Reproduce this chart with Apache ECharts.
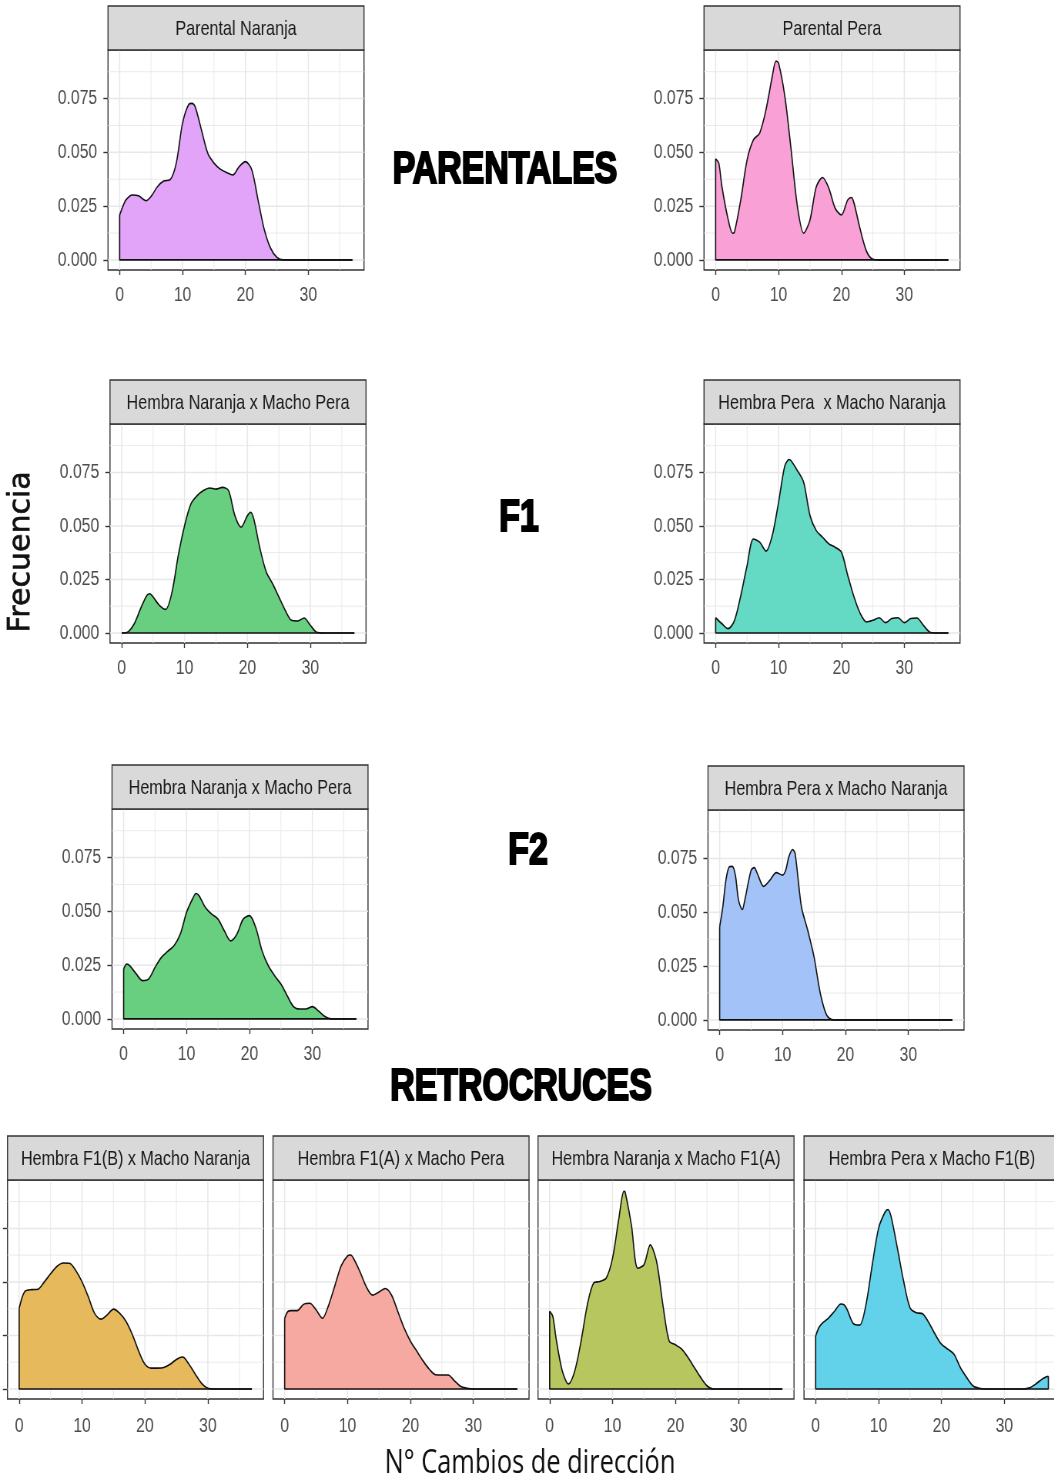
<!DOCTYPE html>
<html>
<head>
<meta charset="utf-8">
<script src="https://cdn.jsdelivr.net/npm/echarts@6/dist/echarts.min.js"></script>
<style>
  html, body { margin: 0; padding: 0; background: #fff; overflow: hidden; }
  #wrap { width: 1054px; height: 1479px; overflow: hidden; }
  /* the reference picture is squeezed horizontally; draw wide, then squeeze */
  #main { width: 1369px; height: 1479px; transform: scaleX(0.77); transform-origin: 0 0; }
</style>
</head>
<body>
<div id="wrap"><div id="main"></div></div>
<script>
// axis breaks (ggplot style: major + minor grid)
var xMajor = [0, 10, 20, 30];
var xMinor = [5, 15, 25, 35];
var yMajor = [0, 0.025, 0.05, 0.075];
var yMinor = [0.0125, 0.0375, 0.0625, 0.0875];

var titles = [
  'Parental Naranja', 'Parental Pera',
  'Hembra Naranja x Macho Pera', 'Hembra Pera  x Macho Naranja',
  'Hembra Naranja x Macho Pera', 'Hembra Pera x Macho Naranja',
  'Hembra F1(B) x Macho Naranja', 'Hembra F1(A) x Macho Pera',
  'Hembra Naranja x Macho F1(A)', 'Hembra Pera x Macho F1(B)'
];

// density curves: [N cambios, frecuencia]
var parentalNaranja = [[0,0.0209],[0.5,0.0248],[1,0.0279],[2,0.0302],[3,0.0298],[4.2,0.0275],[5,0.0295],[6,0.034],[7,0.0367],[8,0.0372],[9,0.045],[10,0.0636],[11,0.0724],[11.5,0.0728],[12,0.0713],[13,0.0605],[14,0.0496],[15,0.045],[16,0.0422],[17,0.0406],[18,0.0395],[19,0.0434],[20,0.0457],[21,0.0419],[22,0.0279],[23,0.014],[24,0.0054],[25,0.0012],[26,0],[37,0]];
var parentalPera = [[0,0.047],[0.5,0.045],[1,0.034],[2,0.0186],[2.7,0.0124],[3,0.013],[4,0.028],[5,0.0465],[6,0.0558],[7,0.059],[8,0.0698],[9,0.0853],[9.6,0.0925],[10,0.0915],[11,0.076],[12,0.0512],[13,0.0248],[14,0.0124],[15,0.0186],[16,0.034],[17,0.0383],[18,0.0333],[19,0.024],[20,0.0209],[21,0.0279],[21.6,0.029],[22,0.0264],[23,0.014],[24,0.0039],[25,0.0003],[26,0],[37,0]];
var f1NaranjaPera = [[0,0],[1,0.0005],[2,0.0043],[3,0.0113],[4,0.0175],[4.5,0.0183],[5,0.0168],[6,0.0129],[7,0.011],[8,0.019],[9,0.0362],[10,0.0501],[11,0.0602],[12,0.0641],[13,0.0665],[14,0.0677],[15,0.0672],[16,0.068],[17,0.0665],[18,0.0548],[19,0.0494],[20,0.0548],[20.5,0.0564],[21,0.0533],[22,0.0393],[23,0.0284],[24,0.023],[25,0.0168],[26,0.0106],[27,0.0059],[28,0.0056],[29,0.007],[30,0.0036],[31,0.0003],[32,0],[37,0]];
var f1PeraNaranja = [[0,0.0071],[1,0.0043],[2,0.002],[3,0.0059],[4,0.0175],[5,0.0315],[6,0.0439],[7,0.0424],[8,0.0382],[9,0.0455],[10,0.061],[11,0.0781],[11.7,0.081],[12,0.0804],[13,0.0758],[14,0.0703],[15,0.0548],[16,0.0478],[17,0.0447],[18,0.0416],[19,0.04],[20,0.0377],[21,0.0269],[22,0.0168],[23,0.009],[24,0.0051],[25,0.0059],[26,0.0071],[27,0.0048],[28,0.0067],[29,0.0071],[30,0.0048],[31,0.0067],[32,0.007],[33,0.0036],[34,0.0005],[35,0],[37,0]];
var f2NaranjaPera = [[0,0.0232],[0.5,0.0255],[1,0.0247],[2,0.0209],[3,0.0178],[4,0.0186],[5,0.024],[6,0.0286],[7,0.0314],[8,0.034],[9,0.0394],[10,0.0495],[11,0.0561],[11.5,0.0583],[12,0.0572],[13,0.0518],[14,0.0487],[15,0.0464],[16,0.041],[17,0.0363],[18,0.0394],[19,0.0464],[20,0.048],[21,0.0425],[22,0.0317],[23,0.0247],[24,0.0201],[25,0.0162],[26,0.0108],[27,0.0057],[28,0.0046],[29,0.0046],[30,0.0057],[31,0.0036],[32,0.0011],[33,0],[37,0]];
var f2PeraNaranja = [[0,0.0433],[0.5,0.0526],[1,0.065],[1.5,0.0711],[2,0.0714],[2.5,0.0673],[3,0.0557],[3.6,0.0513],[4,0.0557],[5,0.0696],[5.5,0.0708],[6,0.068],[7,0.0621],[8,0.065],[9,0.0685],[10,0.0673],[10.5,0.0696],[11,0.0758],[11.6,0.0792],[12,0.0773],[13,0.0526],[14,0.0417],[15,0.0294],[16,0.0124],[17,0.0023],[18,0],[37,0]];
var rcF1bNaranja = [[0,0.0376],[0.5,0.043],[1,0.0458],[2,0.0464],[3,0.0466],[4,0.05],[5,0.0538],[6,0.0572],[7,0.0588],[8,0.0587],[9,0.0553],[10,0.05],[11,0.043],[12,0.0353],[13,0.0326],[14,0.0346],[15,0.0373],[16,0.0353],[17,0.0315],[18,0.0254],[19,0.0177],[20,0.0115],[21,0.0097],[22,0.0097],[23,0.01],[24,0.0115],[25,0.0138],[26,0.0149],[27,0.0115],[28,0.0069],[29,0.0026],[30,0.0003],[31,0],[37,0]];
var rcF1aPera = [[0,0.033],[0.5,0.0361],[1,0.0366],[2,0.0366],[3,0.0395],[4,0.04],[5,0.0369],[6,0.033],[7,0.0392],[8,0.0484],[9,0.0576],[10,0.0622],[10.5,0.0626],[11,0.0607],[12,0.0546],[13,0.0476],[14,0.0438],[15,0.0453],[16,0.0469],[17,0.0438],[18,0.0361],[19,0.0284],[20,0.0223],[21,0.0177],[22,0.0131],[23,0.0092],[24,0.0066],[25,0.0065],[26,0.0065],[27,0.0038],[28,0.0011],[29,0.0003],[30,0],[37,0]];
var rcNaranjaF1a = [[0,0.0363],[0.5,0.034],[1,0.024],[2,0.0085],[3,0.0023],[4,0.0085],[5,0.0224],[6,0.0394],[7,0.0495],[8,0.0502],[9,0.0518],[10,0.0611],[11,0.0796],[11.8,0.0923],[12,0.092],[13,0.0765],[14,0.0564],[15,0.058],[16,0.0673],[17,0.0595],[18,0.0394],[19,0.0224],[20,0.0206],[21,0.0186],[22,0.0147],[23,0.01],[24,0.0054],[25,0.0015],[26,0],[37,0]];
var rcPeraF1b = [[0,0.0247],[0.5,0.0286],[1,0.0305],[2,0.033],[3,0.0363],[4,0.0397],[4.5,0.0394],[5,0.0371],[6,0.0305],[7,0.0298],[8,0.0394],[9,0.058],[10,0.075],[11,0.0824],[11.5,0.0838],[12,0.0804],[13,0.0657],[14,0.0502],[15,0.0379],[16,0.0356],[17,0.0351],[18,0.0309],[19,0.0255],[20,0.0209],[21,0.0186],[22,0.0162],[23,0.01],[24,0.0054],[25,0.0015],[26,0.0003],[27,0],[33,0],[34,0.0005],[35,0.0023],[36,0.0046],[36.5,0.0054],[37,0.0059]];

var densities = [parentalNaranja, parentalPera, f1NaranjaPera, f1PeraNaranja,
  f2NaranjaPera, f2PeraNaranja, rcF1bNaranja, rcF1aPera, rcNaranjaF1a, rcPeraF1b];

var fills = ['#e1a4f9', '#f9a0d7', '#69cf80', '#64d9c3', '#69cf80', '#a3c2f8',
  '#e6ba5c', '#f6a9a1', '#b7c65f', '#62d1ea'];

// panel layout, in picture px (x is converted for the squeeze below)
var squeeze = 0.77;
function sx(v) { return v / squeeze; }

var panels = [
  { left: 108, top: 50, height: 220, yAxisShown: true, labelGap: 15 },
  { left: 704, top: 50, height: 220, yAxisShown: true, labelGap: 15 },
  { left: 110, top: 424, height: 219, yAxisShown: true, labelGap: 15 },
  { left: 704, top: 424, height: 219, yAxisShown: true, labelGap: 15 },
  { left: 112, top: 809, height: 220, yAxisShown: true, labelGap: 15 },
  { left: 708, top: 810, height: 220, yAxisShown: true, labelGap: 15 },
  { left: 7.5, top: 1180, height: 219, yAxisShown: true, labelGap: 17 },
  { left: 273, top: 1180, height: 219, yAxisShown: false, labelGap: 17 },
  { left: 538, top: 1180, height: 219, yAxisShown: false, labelGap: 17 },
  { left: 804, top: 1180, height: 219, yAxisShown: false, labelGap: 17 }
];
var panelWidth = 256;
var stripHeight = 44;
var xMin = -1.85, xMax = 38.85;
var yMin = -0.0047, yMax = 0.0976;

var sans = "'Liberation Sans', Arial, sans-serif";
var gridColor = '#e8e8e8';

function gridSegments(xs, ys) {
  var out = [];
  xs.forEach(function (v) { out.push([v, yMin], [v, yMax], [v, '-']); });
  ys.forEach(function (v) { out.push([xMin, v], [xMax, v], ['-', v]); });
  return out;
}

var grids = [], xAxes = [], yAxes = [], series = [], graphics = [];

panels.forEach(function (p, i) {
  var left = sx(p.left), width = sx(panelWidth);
  grids.push({
    left: left, top: p.top, width: width, height: p.height,
    outerBoundsMode: 'none', containLabel: false,
    show: true, backgroundColor: '#fff', borderColor: '#333', borderWidth: 1.4
  });
  xAxes.push({
    gridIndex: i, type: 'value', min: xMin, max: xMax,
    axisLine: { show: false, onZero: false },
    splitLine: { show: false },
    axisTick: { show: true, customValues: xMajor, length: 5, lineStyle: { color: '#333', width: 1.4 } },
    axisLabel: {
      customValues: xMajor, color: '#4d4d4d', fontSize: 20.5, fontFamily: sans, margin: p.labelGap
    }
  });
  yAxes.push({
    gridIndex: i, type: 'value', min: yMin, max: yMax,
    axisLine: { show: false, onZero: false },
    splitLine: { show: false },
    axisTick: { show: p.yAxisShown, customValues: yMajor, length: 6, lineStyle: { color: '#333', width: 1.4 } },
    axisLabel: {
      show: p.yAxisShown, customValues: yMajor, color: '#4d4d4d', fontSize: 20.5,
      fontFamily: sans, margin: 14,
      formatter: function (v) { return v.toFixed(3); }
    }
  });
  series.push({
    type: 'line', xAxisIndex: i, yAxisIndex: i, z: 1, silent: true,
    data: gridSegments(xMinor, yMinor), showSymbol: false, connectNulls: false,
    lineStyle: { color: gridColor, width: 0.9 }, animation: false
  });
  series.push({
    type: 'line', xAxisIndex: i, yAxisIndex: i, z: 1, silent: true,
    data: gridSegments(xMajor, yMajor), showSymbol: false, connectNulls: false,
    lineStyle: { color: gridColor, width: 1.5 }, animation: false
  });
  var d = densities[i];
  series.push({
    type: 'line', xAxisIndex: i, yAxisIndex: i, z: 3,
    data: d, smooth: 0.3, showSymbol: false,
    lineStyle: { color: '#111', width: 1.6 },
    areaStyle: { color: fills[i], opacity: 1 },
    animation: false
  });
  var last = d[d.length - 1];
  series.push({
    type: 'line', xAxisIndex: i, yAxisIndex: i, z: 4,
    data: [[0, d[0][1]], [0, 0], [last[0], 0], [last[0], last[1]]],
    showSymbol: false, lineStyle: { color: '#111', width: 1.6 }, animation: false
  });
  graphics.push({
    type: 'rect', z: 10,
    shape: { x: left, y: p.top - stripHeight, width: width, height: stripHeight },
    style: { fill: '#d9d9d9', stroke: '#333', lineWidth: 1.4 }
  });
  graphics.push({
    type: 'text', z: 11,
    x: left + width / 2, y: p.top - stripHeight / 2 + 1,
    style: {
      text: titles[i], fill: '#1a1a1a', font: '21px ' + sans,
      textAlign: 'center', textVerticalAlign: 'middle'
    }
  });
});

// section headings
var headings = ['PARENTALES', 'F1', 'F2', 'RETROCRUCES'];
var headingPos = [[505, 171], [519, 519], [528, 852], [521, 1088]];
headings.forEach(function (t, k) {
  graphics.push({
    type: 'text', z: 12, x: sx(headingPos[k][0]), y: headingPos[k][1],
    style: {
      text: t, fill: '#000', stroke: '#000', lineWidth: 2.2, font: 'bold 44px ' + sans,
      textAlign: 'center', textVerticalAlign: 'middle'
    }
  });
});

graphics.push({
  type: 'text', z: 12, x: sx(21.5), y: 552, rotation: Math.PI / 2, scaleY: 1 / squeeze,
  style: {
    text: 'Frecuencia', fill: '#111', stroke: '#111', lineWidth: 0.6,
    font: '30px "DejaVu Sans", sans-serif',
    textAlign: 'center', textVerticalAlign: 'middle'
  }
});
graphics.push({
  type: 'text', z: 12, x: sx(530), y: 1464,
  style: {
    text: 'N° Cambios de dirección', fill: '#111', font: '33px "Open Sans", sans-serif',
    textAlign: 'center', textVerticalAlign: 'middle'
  }
});

var myChart = echarts.init(document.getElementById('main'), null, { renderer: 'canvas' });
myChart.setOption({
  backgroundColor: '#fff',
  animation: false,
  grid: grids,
  xAxis: xAxes,
  yAxis: yAxes,
  series: series,
  graphic: graphics
});
</script>
</body>
</html>
